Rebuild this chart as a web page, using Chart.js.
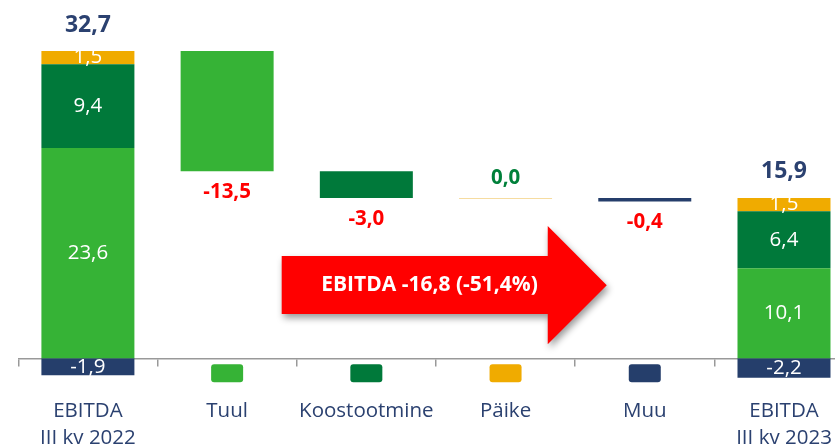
<!DOCTYPE html>
<html>
<head>
<meta charset="utf-8">
<script src="https://cdn.jsdelivr.net/npm/chart.js@4.4.1/dist/chart.umd.min.js"></script>
<style>
  html, body { margin: 0; padding: 0; background: #fff; overflow: hidden; }
  #wrap { width: 870px; height: 446px; position: relative; }
</style>
</head>
<body>
<div id="wrap"><canvas id="chart"></canvas></div>
<script>
/* =====================================================
   EBITDA III kv 2022 -> III kv 2023 (sillagraafik)
===================================================== */

// Andmed
const categories = [["EBITDA", "III kv 2022"], "Tuul", "Koostootmine", "Päike", "Muu", ["EBITDA", "III kv 2023"]];
const tuul         = [23.6, [21.0, 34.5], null, null, null, 10.1];
const koostootmine = [9.4, null, [18.0, 21.0], null, null, 6.4];
const paike        = [1.5, null, null, [18.0, 18.0], null, 1.5];
const muu          = [-1.9, null, null, null, [17.6, 18.0], -2.2];
const changes      = [null, -13.5, -3.0, 0.0, -0.4, null];
const totals       = [32.7, null, null, null, null, 15.9];
const arrowText    = "EBITDA -16,8 (-51,4%)";

const LIGHT = '#36b336';
const DARK = '#00793a';
const ORANGE = '#f0ab00';
const NAVY = '#253e6b';
const TEXT = '#2b4170';
const FONT = '"Open Sans", "Noto Sans", sans-serif';

const series = [tuul, koostootmine, paike, muu];
const seriesColors = [LIGHT, DARK, ORANGE, NAVY];

const fmt = v => v.toFixed(1).replace('.', ',');

// =========================
// Sildid, legendiruudud ja nool
// =========================
const labelPlugin = {
  id: 'labels',
  afterDatasetsDraw(chart) {
    const ctx = chart.ctx;
    const xs = chart.scales.x;
    const ys = chart.scales.y;
    const zero = ys.getPixelForValue(0);
    ctx.save();
    ctx.textAlign = 'center';
    ctx.textBaseline = 'middle';

    // väärtused EBITDA tulpade sees
    ctx.font = '20.5px ' + FONT;
    ctx.fillStyle = '#ffffff';
    series.forEach((arr, j) => {
      [0, 5].forEach(i => {
        const bar = chart.getDatasetMeta(j).data[i];
        ctx.fillText(fmt(arr[i]), bar.x, (bar.y + bar.base) / 2);
      });
    });

    // kogusummad
    ctx.font = 'bold 23px ' + FONT;
    ctx.fillStyle = TEXT;
    totals.forEach((t, i) => {
      if (t === null) return;
      let top = Infinity, x = 0;
      series.forEach((arr, j) => {
        const bar = chart.getDatasetMeta(j).data[i];
        top = Math.min(top, bar.y, bar.base);
        x = bar.x;
      });
      ctx.fillText(fmt(t), x, top - 26);
    });

    // muutused
    ctx.font = 'bold 20.5px ' + FONT;
    changes.forEach((c, i) => {
      if (c === null) return;
      const j = series.findIndex(arr => arr[i] !== null);
      const bar = chart.getDatasetMeta(j).data[i];
      const top = Math.min(bar.y, bar.base);
      const bottom = Math.max(bar.y, bar.base);
      if (c < 0) {
        ctx.fillStyle = '#ff0000';
        ctx.fillText(fmt(c), bar.x, bottom + 21);
      } else {
        ctx.fillStyle = '#00803a';
        ctx.fillText(fmt(c), bar.x, top - 20);
      }
    });

    // legendiruudud telje all
    for (let i = 1; i <= 4; i++) {
      const cx = xs.getPixelForValue(i);
      ctx.fillStyle = seriesColors[i - 1];
      ctx.beginPath();
      ctx.roundRect(cx - 16, zero + 6, 32, 18, 3);
      ctx.fill();
    }

    // punane nool
    const x0 = xs.getPixelForValue(1.392);
    const xh = xs.getPixelForValue(3.303);
    const xt = xs.getPixelForValue(3.727);
    const sTop = ys.getPixelForValue(11.49);
    const sBot = ys.getPixelForValue(4.97);
    const hTop = ys.getPixelForValue(14.85);
    const hBot = ys.getPixelForValue(1.57);
    const yMid = (hTop + hBot) / 2;
    ctx.save();
    ctx.shadowColor = 'rgba(0,0,0,0.4)';
    ctx.shadowBlur = 7;
    ctx.shadowOffsetX = 2;
    ctx.shadowOffsetY = 4;
    ctx.fillStyle = '#ff0000';
    ctx.beginPath();
    ctx.moveTo(x0, sTop);
    ctx.lineTo(xh, sTop);
    ctx.lineTo(xh, hTop);
    ctx.lineTo(xt, yMid);
    ctx.lineTo(xh, hBot);
    ctx.lineTo(xh, sBot);
    ctx.lineTo(x0, sBot);
    ctx.closePath();
    ctx.fill();
    ctx.restore();

    ctx.font = 'bold 21px ' + FONT;
    ctx.fillStyle = '#ffffff';
    ctx.fillText(arrowText, xs.getPixelForValue(2.454), (sTop + sBot) / 2);

    ctx.restore();
  }
};

const datasets = series.map((arr, j) => ({
  data: arr,
  backgroundColor: j === 2 ? arr.map((v, i) => i === 3 ? '#f6dca0' : ORANGE) : seriesColors[j],
  borderWidth: 0,
  barPercentage: 1,
  categoryPercentage: 0.668,
  minBarLength: j === 2 ? 1 : 0
}));

new Chart(document.getElementById('chart'), {
  type: 'bar',
  data: { labels: categories, datasets: datasets },
  options: {
    animation: false,
    responsive: true,
    maintainAspectRatio: false,
    layout: { padding: { left: 18.3, right: 16.4, top: 37.6, bottom: 52.1 } },
    plugins: { legend: { display: false }, tooltip: { enabled: false } },
    scales: {
      x: {
        stacked: true,
        position: { y: 0 },
        grid: { drawOnChartArea: false, drawTicks: true, tickLength: 7, color: '#999999', lineWidth: 1.5, offset: true },
        border: { display: true, color: '#999999', width: 1.5 },
        ticks: {
          color: TEXT,
          font: { family: FONT, size: 20.5, lineHeight: 1.32 },
          padding: 32,
          maxRotation: 0,
          autoSkip: false
        }
      },
      y: { stacked: true, display: false, min: -4, max: 36 }
    }
  },
  plugins: [labelPlugin]
});
</script>
</body>
</html>
